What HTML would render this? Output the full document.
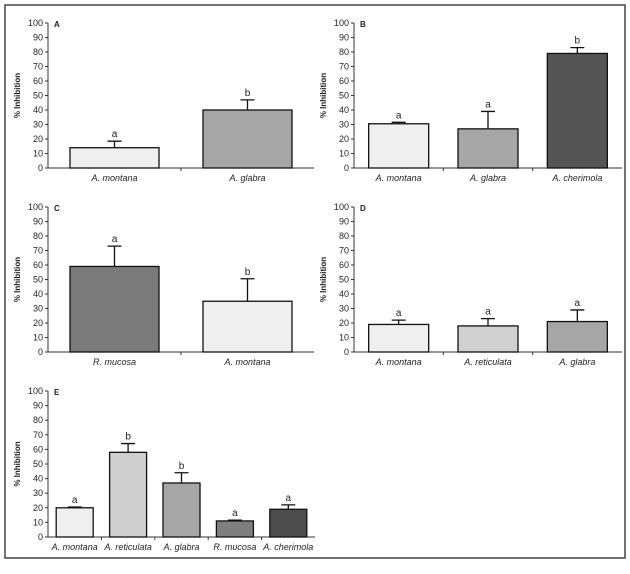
<!DOCTYPE html>
<html><head><meta charset="utf-8"><style>
body{margin:0;background:#fff;}
svg{display:block;font-family:"Liberation Sans",sans-serif;}
</style></head><body>
<svg id="fig" width="630" height="574">
<rect x="5" y="5" width="620" height="553" fill="none" stroke="#444" stroke-width="1.5"/>
</svg>
<script>
// Panel A
const catsA = ["A. montana", "A. glabra"];
const valsA = [14, 40];
const errA = [18.5, 47];
const sigA = ["a", "b"];
// Panel B
const catsB = ["A. montana", "A. glabra", "A. cherimola"];
const valsB = [30.5, 27, 79];
const errB = [31.5, 39, 83];
const sigB = ["a", "a", "b"];
// Panel C
const catsC = ["R. mucosa", "A. montana"];
const valsC = [59, 35];
const errC = [73, 50.5];
const sigC = ["a", "b"];
// Panel D
const catsD = ["A. montana", "A. reticulata", "A. glabra"];
const valsD = [19, 18, 21];
const errD = [22, 23, 29];
const sigD = ["a", "a", "a"];
// Panel E
const catsE = ["A. montana", "A. reticulata", "A. glabra", "R. mucosa", "A. cherimola"];
const valsE = [20, 58, 37, 11, 19];
const errE = [20.5, 64, 44, 11.5, 22];
const sigE = ["a", "b", "b", "a", "a"];
const yTicks = [0,10,20,30,40,50,60,70,80,90,100];

const NS = "http://www.w3.org/2000/svg";
const svg = document.getElementById("fig");
function mk(tag, attrs, parent){const e=document.createElementNS(NS,tag);for(const k in attrs)e.setAttribute(k,attrs[k]);(parent||svg).appendChild(e);return e;}

function panel(letter, cats, vals, errs, sigs, colors, ax){
  const g = mk("g",{});
  
  
  const y = v => ax.y0 - (ax.y0 - ax.y100) * v / 100;
  const n = cats.length, step = (ax.x1 - ax.x0) / n;
  const xc = i => ax.x0 + step * (i + 0.5);
  const yl = mk("line",{x1:ax.x0,y1:ax.y100,x2:ax.x0,y2:ax.y0,stroke:"#333","stroke-width":1},g);
  
  
  const xl = mk("line",{x1:ax.x0,y1:ax.y0,x2:ax.x1,y2:ax.y0,stroke:"#333","stroke-width":1},g);
  
  
  yTicks.forEach(t=>{
    mk("line",{x1:ax.x0-3,y1:y(t),x2:ax.x0,y2:y(t),stroke:"#333"},g);
    const tx = mk("text",{x:ax.x0-5,y:y(t)+3,"text-anchor":"end","font-size":9,fill:"#222"},g);
    tx.textContent = t;
    
    
  });
  for(let i=1;i<n;i++) mk("line",{x1:ax.x0+step*i,y1:ax.y0,x2:ax.x0+step*i,y2:ax.y0+3,stroke:"#333"},g);
  const yt = mk("text",{x:0,y:0,"text-anchor":"middle","font-size":8,"font-weight":"bold",fill:"#222",transform:`translate(${ax.x0-28},${(ax.y0+ax.y100)/2}) rotate(-90)`},g);
  yt.textContent = "% Inhibition";
  
  
  const lt = mk("text",{x:ax.x0+6,y:ax.y100+4,"font-size":8,"font-weight":"bold",fill:"#222"},g);
  lt.textContent = letter;
  
  
  cats.forEach((c,i)=>{
    const bw = ax.bw;
    const r = mk("rect",{x:xc(i)-bw/2,y:y(vals[i]),width:bw,height:ax.y0-y(vals[i]),fill:colors[i],stroke:"#111","stroke-width":1.3},g);
    
    
    const el = mk("path",{d:`M${xc(i)},${y(vals[i])}V${y(errs[i])}M${xc(i)-7},${y(errs[i])}H${xc(i)+7}`,stroke:"#111","stroke-width":1.3,fill:"none"},g);
    
    
    const s = mk("text",{x:xc(i),y:y(errs[i])-4,"text-anchor":"middle","font-size":10,fill:"#222"},g);
    s.textContent = sigs[i];
    
    
    const cl = mk("text",{x:xc(i),y:ax.y0+13,"text-anchor":"middle","font-size":9,"font-style":"italic",fill:"#222"},g);
    cl.textContent = c;
    
    
  });
}
panel("A",catsA,valsA,errA,sigA,["#efefef","#a6a6a6"],{x0:48,x1:314,y0:168,y100:23,bw:89});
panel("B",catsB,valsB,errB,sigB,["#efefef","#a6a6a6","#555555"],{x0:354,x1:622,y0:168,y100:23,bw:60});
panel("C",catsC,valsC,errC,sigC,["#7a7a7a","#efefef"],{x0:48,x1:314,y0:352,y100:207,bw:89});
panel("D",catsD,valsD,errD,sigD,["#efefef","#d0d0d0","#a6a6a6"],{x0:354,x1:622,y0:352,y100:207,bw:60});
panel("E",catsE,valsE,errE,sigE,["#efefef","#cfcfcf","#a6a6a6","#7f7f7f","#4d4d4d"],{x0:48,x1:315,y0:537,y100:391,bw:37});
</script>
</body></html>
